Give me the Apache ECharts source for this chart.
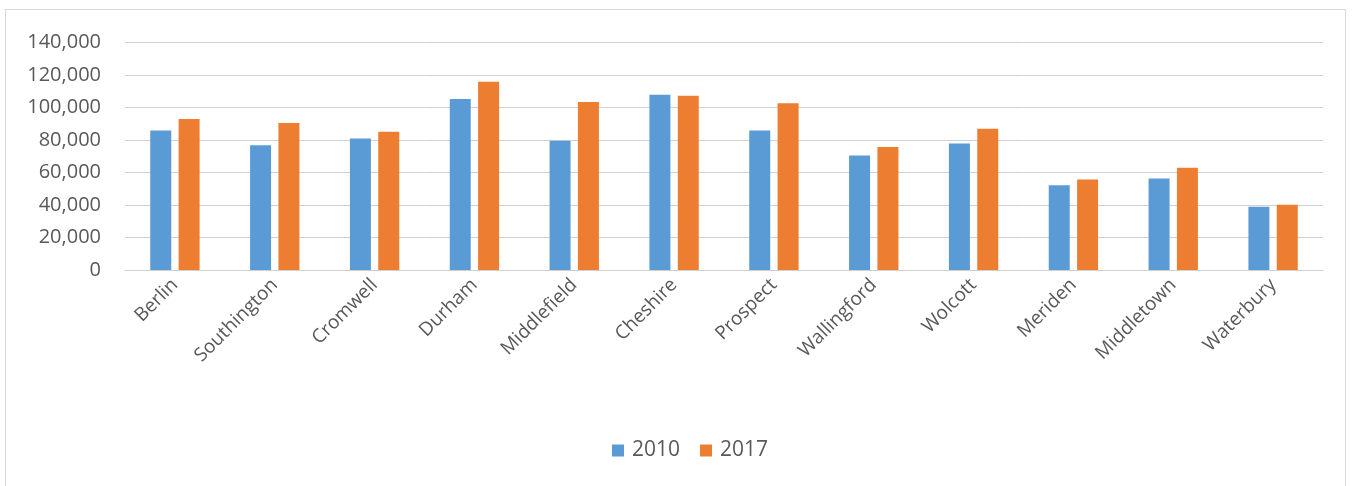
<!DOCTYPE html>
<html>
<head>
<meta charset="utf-8">
<script src="https://cdn.jsdelivr.net/npm/echarts@6/dist/echarts.min.js"></script>
<style>
  html, body { margin: 0; padding: 0; background: #ffffff; }
  #frame { position: absolute; left: 5px; top: 9px; width: 1341px; height: 477px; border: 1px solid #d9d9d9; border-bottom: none; box-sizing: border-box; }
  #chart { position: absolute; left: 0; top: 0; width: 1354px; height: 486px; }
</style>
</head>
<body>
<div id="frame"></div>
<div id="chart"></div>
<script>
// Towns along the category axis
const towns = ['Berlin', 'Southington', 'Cromwell', 'Durham', 'Middlefield', 'Cheshire',
  'Prospect', 'Wallingford', 'Wolcott', 'Meriden', 'Middletown', 'Waterbury'];

// Values for each year
const values2010 = [85900, 76700, 81000, 105300, 79600, 107900, 85900, 70500, 77900, 52200, 56300, 39000];
const values2017 = [92900, 90500, 85100, 115800, 103400, 107300, 102600, 75700, 87000, 55700, 62900, 40100];

const seriesNames = ['2010', '2017'];

const textColor = '#595959';
const gridColor = '#d0d0d0';
const fontFamily = '"Open Sans", "Noto Sans", sans-serif';

const chart = echarts.init(document.getElementById('chart'), null, { renderer: 'canvas' });
chart.setOption({
  animation: false,
  grid: { left: 125, right: 31, top: 42.5, bottom: 216, containLabel: false },
  legend: {
    data: seriesNames,
    top: 435,
    left: 607,
    itemWidth: 12,
    itemHeight: 12,
    itemGap: 20,
    icon: 'rect',
    textStyle: { color: textColor, fontSize: 21, fontFamily: fontFamily, padding: [0, 0, 0, 3] }
  },
  xAxis: {
    type: 'category',
    data: towns,
    axisLine: { show: true, lineStyle: { color: gridColor, width: 1 } },
    axisTick: { show: false },
    axisLabel: {
      rotate: 45,
      interval: 0,
      margin: 12,
      color: textColor,
      fontSize: 19,
      fontFamily: fontFamily
    }
  },
  yAxis: {
    type: 'value',
    min: 0,
    max: 140000,
    interval: 20000,
    axisLine: { show: false },
    axisTick: { show: false },
    splitLine: { lineStyle: { color: gridColor, width: 1 } },
    axisLabel: {
      margin: 24,
      color: textColor,
      fontSize: 20,
      fontFamily: fontFamily,
      formatter: v => v.toLocaleString('en-US')
    }
  },
  series: [
    {
      name: seriesNames[0],
      type: 'bar',
      data: values2010,
      barWidth: 21,
      barGap: '35%',
      itemStyle: { color: '#5B9BD5' }
    },
    {
      name: seriesNames[1],
      type: 'bar',
      data: values2017,
      barWidth: 21,
      barGap: '35%',
      itemStyle: { color: '#ED7D31' }
    }
  ]
});
</script>
</body>
</html>
